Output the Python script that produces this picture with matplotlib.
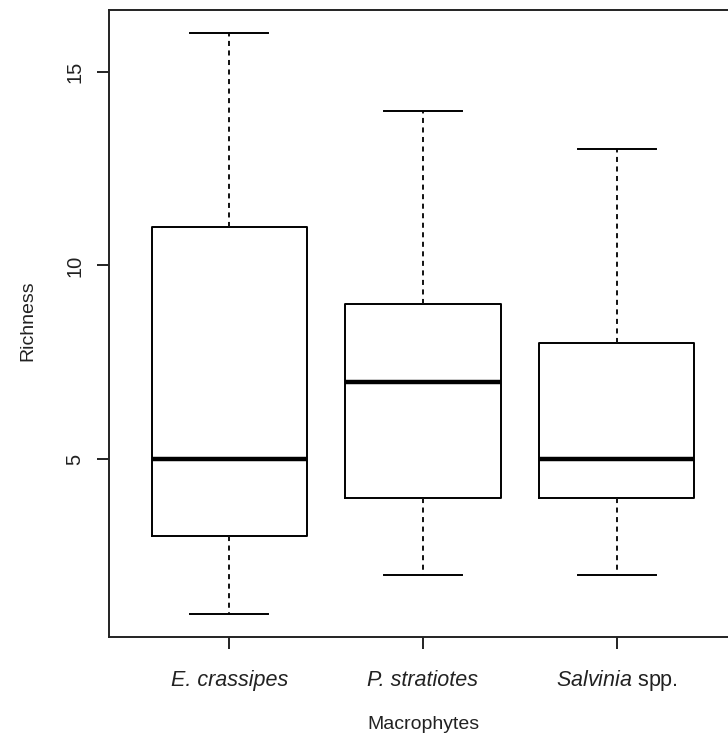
import matplotlib
matplotlib.use("Agg")
import matplotlib.pyplot as plt

# Data (five-number summaries)
categories = ["E. crassipes", "P. stratiotes", "Salvinia spp."]
tick_labels = ["E. crassipes", "P. stratiotes", r"$\it{Salvinia}$ spp."]
tick_styles = ["italic", "italic", "normal"]
mins = [1, 2, 2]
q1s = [3, 4, 4]
medians = [5, 7, 5]
q3s = [11, 9, 8]
maxs = [16, 14, 13]
yticks = [5, 10, 15]

plt.rcParams["font.family"] = ["Liberation Sans", "DejaVu Sans"]
plt.rcParams["mathtext.fontset"] = "custom"
plt.rcParams["mathtext.it"] = "Liberation Sans:italic"
plt.rcParams["mathtext.rm"] = "Liberation Sans"

W, H = 728, 737
fig = plt.figure(figsize=(W / 100, H / 100), dpi=100)
left, right, top, bottom = 109, 737, 10, 637
ax = fig.add_axes([left / W, 1 - bottom / H, (right - left) / W, (bottom - top) / H])

stats = []
for name, lo, a, m, b, hi in zip(categories, mins, q1s, medians, q3s, maxs):
    stats.append(dict(label=name, whislo=lo, q1=a, med=m, q3=b, whishi=hi, fliers=[]))

lw = 1.4
ax.bxp(stats, positions=[1, 2, 3], widths=0.8, capwidths=0.4,
       boxprops=dict(color="black", linewidth=lw),
       whiskerprops=dict(color="#111111", linewidth=lw, linestyle=(0, (2.6, 2.3))),
       capprops=dict(color="black", linewidth=lw),
       medianprops=dict(color="black", linewidth=3.2, solid_capstyle="butt"),
       showfliers=False)

ymin, ymax = min(mins), max(maxs)
pad = (ymax - ymin) * 0.04
ax.set_ylim(ymin - pad, ymax + pad)
ax.set_xlim(0.5 - 0.12, 3.5 + 0.12)

txt = "#222222"
ax.set_yticks(yticks)
ax.set_yticklabels([str(t) for t in yticks], rotation=90, va="center")
ax.set_xticks([1, 2, 3])
labels = ax.set_xticklabels(tick_labels)
for lbl, st in zip(labels, tick_styles):
    lbl.set_fontstyle(st)
    lbl.set_verticalalignment("baseline")
    lbl.set_fontsize(15.5)

for s in ax.spines.values():
    s.set_linewidth(lw)
    s.set_color(txt)
ax.tick_params(axis="both", length=8.6, width=lw, color=txt, labelcolor=txt)
ax.tick_params(axis="y", labelsize=14.5, pad=9)
ax.tick_params(axis="x", pad=26.6)

# axis titles placed at pixel positions of the reference
fig.text(((left + right) / 2) / W, 1 - 729 / H, "Macrophytes", fontsize=14,
         color=txt, ha="center", va="baseline")
fig.text(32 / W, 1 - 321 / H, "Richness", fontsize=14, color=txt,
         rotation=90, rotation_mode="anchor", ha="center", va="baseline")

fig.savefig("out.png", dpi=100)
